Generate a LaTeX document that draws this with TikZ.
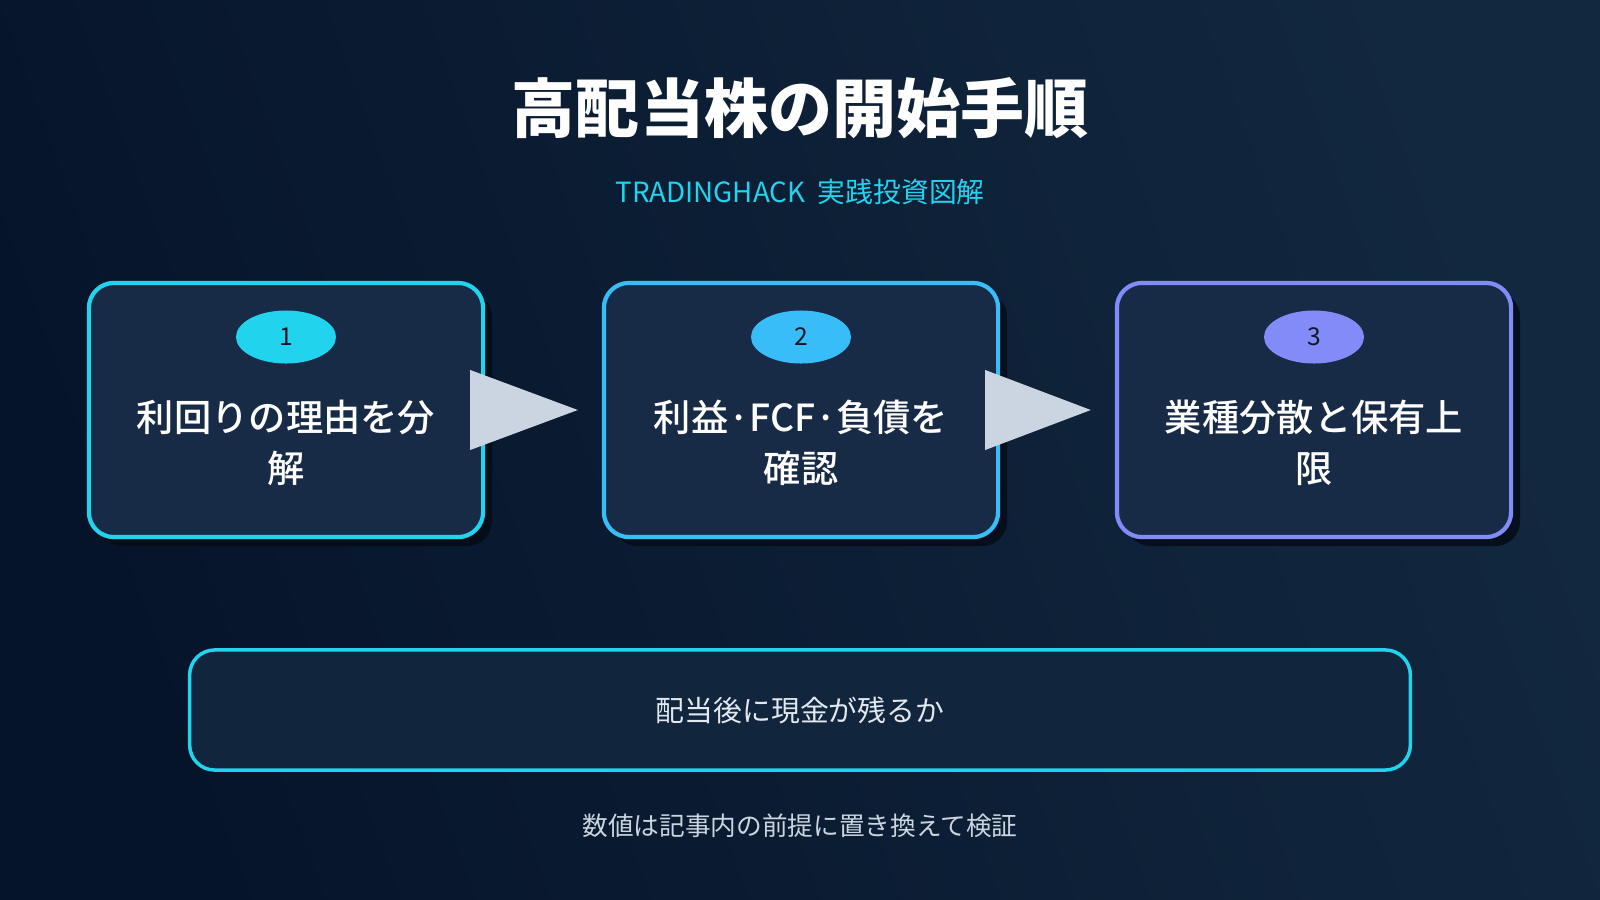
\documentclass[tikz,border=0pt]{standalone}
\usepackage{fontspec}
\setmainfont{Noto Sans CJK JP}
\newfontfamily\cardfont{Noto Sans CJK JP}[UprightFont=* Medium]
\usetikzlibrary{positioning, calc, shapes.geometric, shadows}

\definecolor{bgtl}{HTML}{06142A}
\definecolor{bgbr}{HTML}{12283F}
\definecolor{cardfill}{HTML}{172B46}
\definecolor{checkfill}{HTML}{11253D}
\definecolor{shadowcol}{HTML}{050C17}
\definecolor{cardcyan}{HTML}{22D3EE}
\definecolor{cardsky}{HTML}{38BDF8}
\definecolor{cardindigo}{HTML}{818CF8}
\definecolor{arrowfill}{HTML}{CBD5E1}
\definecolor{notegray}{HTML}{CBD5E1}
\definecolor{checktext}{HTML}{E2E8F0}
\definecolor{badgetext}{HTML}{0F172A}

\begin{document}
\begin{tikzpicture}[x=0.01cm, y=-0.01cm,
    stepcard/.style={draw, line width=1.2pt, rounded corners=0.25cm, fill=cardfill,
      minimum width=3.94cm, minimum height=2.54cm,
      drop shadow={shadow xshift=0.09cm, shadow yshift=-0.09cm, fill=shadowcol, opacity=0.85}},
    badge/.style={ellipse, minimum width=1cm, minimum height=0.53cm, inner sep=0pt,
      text=badgetext, font=\fontsize{7}{8}\selectfont},
    steptext/.style={text=white, align=center, font=\cardfont\fontsize{10.6}{14.5}\selectfont},
    checkbox/.style={draw=cardcyan, line width=1pt, rounded corners=0.25cm, fill=checkfill,
      minimum width=12.2cm, minimum height=1.2cm, text=checktext, font=\fontsize{8.2}{10}\selectfont}]
    \shade[left color=bgtl, right color=bgbr, shading angle=110] (0,0) rectangle (1600,900);

    \node[text=white, font=\bfseries\fontsize{18.2}{22}\selectfont] (title) at (800,108) {高配当株の開始手順};
    \node[text=cardcyan, font=\fontsize{7.9}{9}\selectfont] (sub) at (800,192) {TRADINGHACK\hspace{0.45em}実践投資図解};

    \foreach \i/\x/\c/\t in {1/286/cardcyan/{利回りの理由を分\\解},
                            2/801/cardsky/{利益·FCF·負債を\\確認},
                            3/1314/cardindigo/{業種分散と保有上\\限}} {
        \node[stepcard, draw=\c] (s\i) at (\x,410) {};
        \node[badge, fill=\c] (b\i) at (\x,337) {\i};
        \node[steptext] (t\i) at (\x,443) {\t};
    }
    \foreach \i/\j in {1/2, 2/3}
        \fill[arrowfill] ($(s\i.east)+(-15,-40)$) -- ($(s\j.west)+(-24,0)$) -- ($(s\i.east)+(-15,40)$) -- cycle;

    \node[checkbox] (check) at (800,710) {配当後に現金が残るか};
    \node[text=notegray, font=\fontsize{7.3}{9}\selectfont] (note) at (800,826) {数値は記事内の前提に置き換えて検証};
\end{tikzpicture}
\end{document}
